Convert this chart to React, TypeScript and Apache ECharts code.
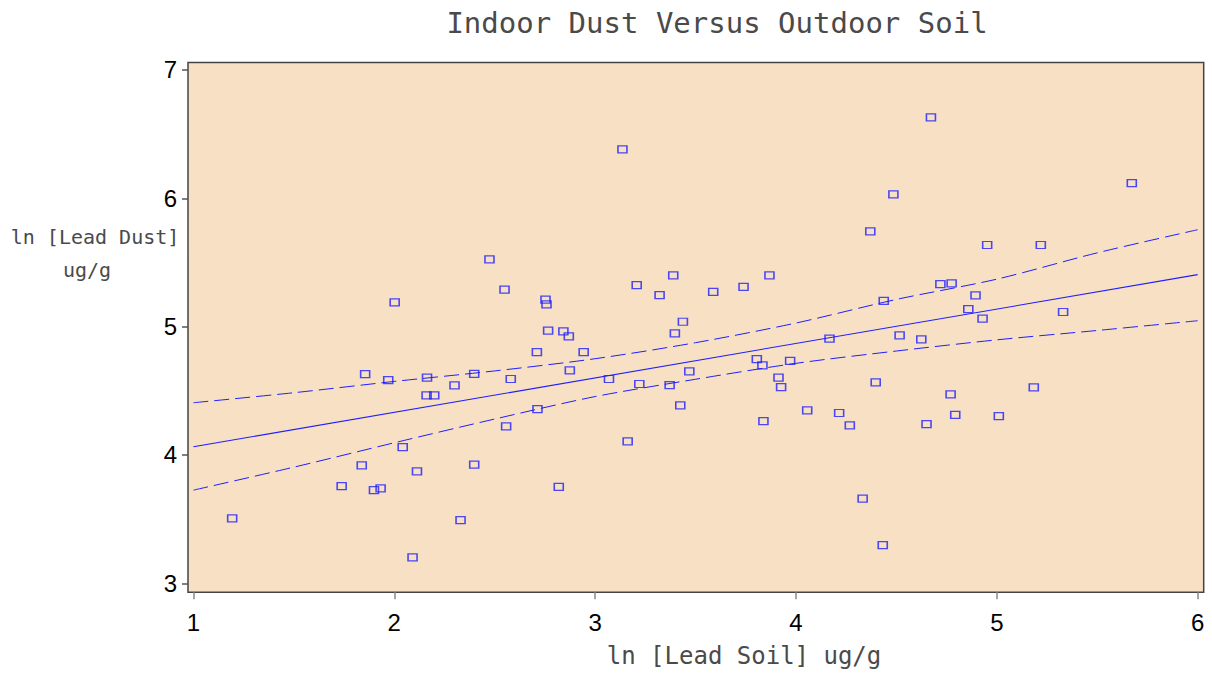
import React, { useEffect, useRef } from "react";
import * as echarts from "echarts";

// ln[Lead Soil] (x) and ln[Lead Dust] (y) observations
const soilLn = [
  1.193, 1.738, 1.838, 1.855, 1.899, 1.932, 1.97, 2.002, 2.042, 2.091,
  2.113, 2.161, 2.163, 2.199, 2.3, 2.33, 2.398, 2.398, 2.474, 2.549,
  2.557, 2.58, 2.71, 2.713, 2.753, 2.758, 2.766, 2.819, 2.842, 2.869,
  2.874, 2.943, 3.069, 3.136, 3.162, 3.207, 3.22, 3.321, 3.371, 3.389,
  3.397, 3.424, 3.437, 3.469, 3.588, 3.739, 3.805, 3.833, 3.838, 3.868,
  3.913, 3.926, 3.971, 4.056, 4.167, 4.215, 4.268, 4.332, 4.37, 4.397,
  4.432, 4.437, 4.485, 4.516, 4.624, 4.65, 4.672, 4.719, 4.77, 4.775,
  4.793, 4.858, 4.894, 4.929, 4.952, 5.01, 5.184, 5.219, 5.33, 5.672,
];
const dustLn = [
  3.506, 3.758, 3.919, 4.63, 3.726, 3.74, 4.584, 5.189, 4.062, 3.202,
  3.872, 4.465, 4.602, 4.465, 4.542, 3.493, 4.631, 3.924, 5.524, 5.288,
  4.223, 4.592, 4.802, 4.358, 5.21, 5.174, 4.968, 3.752, 4.963, 4.924,
  4.659, 4.802, 4.592, 6.382, 4.106, 5.324, 4.553, 5.246, 4.545, 5.4,
  4.948, 4.387, 5.038, 4.652, 5.27, 5.309, 4.747, 4.698, 4.264, 5.4,
  4.602, 4.529, 4.734, 4.348, 4.906, 4.327, 4.231, 3.659, 5.743, 4.566,
  3.298, 5.2, 6.031, 4.932, 4.901, 4.241, 6.631, 5.332, 4.472, 5.337,
  4.313, 5.137, 5.244, 5.062, 5.636, 4.303, 4.527, 5.636, 5.114, 6.119,
];

// fitted regression line (end points) and confidence band
const fitX = [1, 6];
const fitY = [4.064, 5.405];
const bandX = [1, 1.5, 2, 2.5, 3, 3.5, 4, 4.5, 5, 5.5, 6];
const bandUpper = [4.407, 4.485, 4.573, 4.655, 4.75, 4.875, 5.028, 5.212, 5.37, 5.575, 5.755];
const bandLower = [3.726, 3.905, 4.095, 4.28, 4.455, 4.59, 4.714, 4.81, 4.897, 4.97, 5.046];

const xTicks = [1, 2, 3, 4, 5, 6];
const yTicks = [3, 4, 5, 6, 7];

const TITLE = "Indoor Dust Versus Outdoor Soil";
const X_NAME = "ln [Lead Soil] ug/g";
const Y_NAME_1 = "ln [Lead Dust]";
const Y_NAME_2 = "ug/g";

const BLUE = "#1f1fff";
const MONO = "'DejaVu Sans Mono', monospace";
const SANS = "'Liberation Sans', Arial, sans-serif";
const TXT = "#4a4a4a";

export default function App() {
  const ref = useRef<HTMLDivElement>(null);

  useEffect(() => {
    if (!ref.current) return;
    const chart = echarts.init(ref.current, undefined, { renderer: "svg" });
    const pts = soilLn.map((x, i) => [x, dustLn[i]]);
    const fit = fitX.map((x, i) => [x, fitY[i]]);
    const up = bandX.map((x, i) => [x, bandUpper[i]]);
    const lo = bandX.map((x, i) => [x, bandLower[i]]);

    chart.setOption({
      animation: false,
      backgroundColor: "#ffffff",
      grid: {
        left: 188,
        right: 8.3,
        top: 62.5,
        bottom: 82.7,
        show: true,
        backgroundColor: "#f7e0c3",
        borderColor: "#444444",
        borderWidth: 1.5,
      },
      xAxis: {
        type: "value",
        min: 0.973,
        max: 6.03,
        axisLine: { show: false },
        splitLine: { show: false },
        axisTick: {
          show: true,
          customValues: xTicks,
          length: 7,
          lineStyle: { color: "#888888", width: 1.5 },
        },
        axisLabel: {
          customValues: xTicks,
          fontFamily: SANS,
          fontSize: 24,
          color: "#000000",
          margin: 18,
        },
      },
      yAxis: {
        type: "value",
        min: 2.93,
        max: 7.058,
        axisLine: { show: false },
        splitLine: { show: false },
        axisTick: {
          show: true,
          customValues: yTicks,
          length: 6,
          lineStyle: { color: "#555555", width: 1.5 },
        },
        axisLabel: {
          customValues: yTicks,
          fontFamily: SANS,
          fontSize: 24,
          color: "#000000",
          margin: 11,
        },
      },
      graphic: [
        {
          type: "text",
          x: 717,
          y: 23,
          style: {
            text: TITLE,
            fontFamily: MONO,
            fontSize: 29,
            fill: TXT,
            align: "center",
            verticalAlign: "middle",
          },
        },
        {
          type: "text",
          x: 95,
          y: 237,
          style: {
            text: Y_NAME_1,
            fontFamily: MONO,
            fontSize: 20,
            fill: TXT,
            align: "center",
            verticalAlign: "middle",
          },
        },
        {
          type: "text",
          x: 87,
          y: 270,
          style: {
            text: Y_NAME_2,
            fontFamily: MONO,
            fontSize: 20,
            fill: TXT,
            align: "center",
            verticalAlign: "middle",
          },
        },
        {
          type: "text",
          x: 744,
          y: 656,
          style: {
            text: X_NAME,
            fontFamily: MONO,
            fontSize: 24,
            fill: TXT,
            align: "center",
            verticalAlign: "middle",
          },
        },
      ],
      series: [
        {
          type: "line",
          data: up,
          smooth: 0.3,
          showSymbol: false,
          symbol: "none",
          lineStyle: { color: BLUE, width: 1, type: [15, 6] },
          z: 2,
        },
        {
          type: "line",
          data: lo,
          smooth: 0.3,
          showSymbol: false,
          symbol: "none",
          lineStyle: { color: BLUE, width: 1, type: [15, 6] },
          z: 2,
        },
        {
          type: "line",
          data: fit,
          showSymbol: false,
          symbol: "none",
          lineStyle: { color: BLUE, width: 1.1 },
          z: 2,
        },
        {
          type: "scatter",
          data: pts,
          symbol: "rect",
          symbolSize: [9, 7],
          itemStyle: {
            color: "rgba(0,0,0,0)",
            borderColor: BLUE,
            borderWidth: 1.4,
          },
          z: 3,
        },
      ],
    });
    return () => chart.dispose();
  }, []);

  return (
    <div
      ref={ref}
      style={{ position: "fixed", left: 0, top: 0, width: 1212, height: 675 }}
    />
  );
}
